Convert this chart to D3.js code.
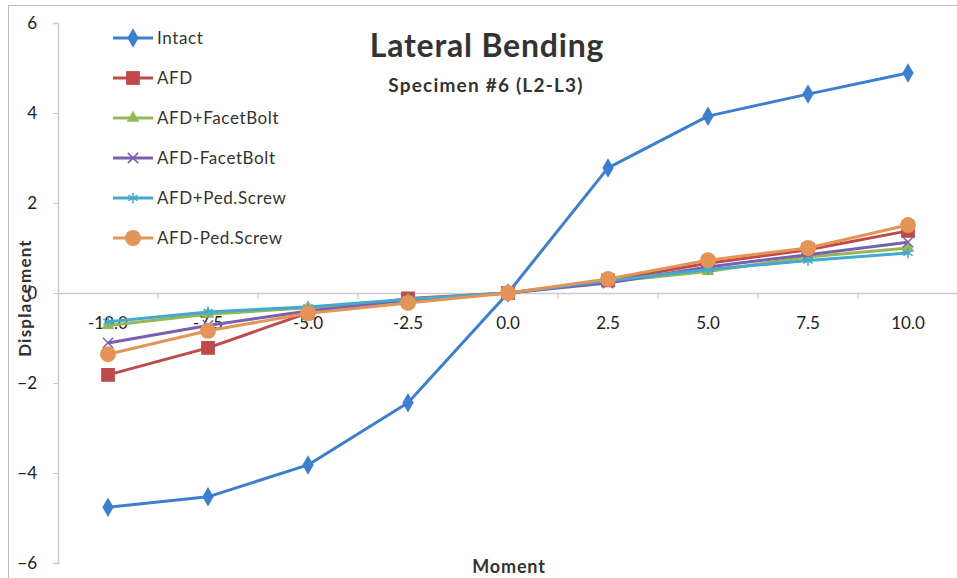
<!DOCTYPE html>
<html><head><meta charset="utf-8">
<script src="https://cdn.jsdelivr.net/npm/d3@7"></script>
<style>html,body{margin:0;padding:0;background:#fff;}svg{display:block;}</style>
</head><body>
<svg id="c" width="957" height="578"></svg>
<script>
const categories = ["-10.0","-7.5","-5.0","-2.5","0.0","2.5","5.0","7.5","10.0"];
const yTicks = [-6,-4,-2,0,2,4,6];
const intact        = [-4.76,-4.53,-3.82,-2.44,0,2.78,3.93,4.42,4.89];
const afd           = [-1.82,-1.22,-0.44,-0.12,0,0.28,0.66,0.96,1.38];
const afdPlusFacet  = [-0.72,-0.47,-0.33,-0.15,0,0.25,0.48,0.80,1.00];
const afdMinusFacet = [-1.11,-0.72,-0.40,-0.16,0,0.22,0.58,0.85,1.13];
const afdPlusPed    = [-0.64,-0.42,-0.31,-0.14,0,0.27,0.52,0.72,0.89];
const afdMinusPed   = [-1.36,-0.84,-0.45,-0.22,0,0.31,0.73,1.00,1.51];
const seriesNames = ["Intact","AFD","AFD+FacetBolt","AFD-FacetBolt","AFD+Ped.Screw","AFD-Ped.Screw"];

const series = [
  {name:seriesNames[0], values:intact, color:"#3d7fcf", marker:"diamond"},
  {name:seriesNames[1], values:afd, color:"#be4a4c", marker:"square"},
  {name:seriesNames[2], values:afdPlusFacet, color:"#93b957", marker:"triangle"},
  {name:seriesNames[3], values:afdMinusFacet, color:"#7a5fb0", marker:"x"},
  {name:seriesNames[4], values:afdPlusPed, color:"#45a8cc", marker:"star"},
  {name:seriesNames[5], values:afdMinusPed, color:"#e39457", marker:"circle"}
];

const svg = d3.select("#c");
const font = "Lato, 'Open Sans', sans-serif";
// outer border
svg.append("rect").attr("x",8.5).attr("y",5.5).attr("width",960).attr("height",580)
  .attr("fill","none").attr("stroke","#bbb").attr("stroke-width",1);

const plotL = 58, plotR = 958, plotT = 23, plotB = 563;
const x = d3.scaleBand().domain(categories).range([plotL, plotR]).paddingInner(0).paddingOuter(0);
const y = d3.scaleLinear().domain([-6,6]).range([plotB, plotT]);
const cx = c => x(c) + x.bandwidth()/2;

// y axis
const yAxis = svg.append("g").attr("transform",`translate(${plotL},0)`)
  .call(d3.axisLeft(y).tickValues(yTicks).tickFormat(d3.format("d")).tickSize(5).tickPadding(16));
yAxis.select(".domain").attr("stroke","#ccc").attr("stroke-width",1.5);
yAxis.selectAll(".tick line").attr("stroke","#ccc");
yAxis.selectAll("text").attr("font-family",font).attr("font-size",17).attr("fill","#222");

// x axis at y=0
const xAxis = svg.append("g").attr("transform",`translate(0,${y(0)})`)
  .call(d3.axisBottom(x).tickSize(0).tickPadding(24));
xAxis.select(".domain").attr("stroke","#ccc").attr("stroke-width",1.5);
xAxis.selectAll("text").attr("font-family",font).attr("font-size",17).attr("fill","#222");
// boundary ticks
const bounds = categories.slice(1).map(c => x(c));
svg.append("g").selectAll("line").data(bounds).join("line")
  .attr("x1",d=>d).attr("x2",d=>d).attr("y1",y(0)).attr("y2",y(0)+6)
  .attr("stroke","#ccc").attr("stroke-width",1.2);

function markerPath(type){
  switch(type){
    case "diamond": return d3.symbol(d3.symbolDiamond, 110)();
    case "square": return d3.symbol(d3.symbolSquare, 190)();
    case "triangle": return d3.symbol(d3.symbolTriangle, 70)();
    case "x": return d3.symbol(d3.symbolTimes, 70)();
    case "star": return d3.symbol(d3.symbolAsterisk, 80)();
    case "circle": return d3.symbol(d3.symbolCircle, 200)();
  }
}
const line = d3.line().x((d,i)=>cx(categories[i])).y(d=>y(d));

series.forEach(s => {
  const g = svg.append("g");
  g.append("path").datum(s.values).attr("d", line).attr("fill","none")
    .attr("stroke", s.color).attr("stroke-width", 3).attr("stroke-linejoin","round");
  const stroked = (s.marker==="x" || s.marker==="star");
  g.selectAll("path.m").data(s.values).join("path").attr("class","m")
    .attr("transform",(d,i)=>`translate(${cx(categories[i])},${y(d)})`)
    .attr("d", markerPath(s.marker))
    .attr("fill", stroked ? "none" : s.color)
    .attr("stroke", s.color).attr("stroke-width", stroked ? 1.5 : 0);
});

// legend
const leg = svg.append("g");
series.forEach((s,i) => {
  const yy = 38 + i*40;
  leg.append("line").attr("x1",113).attr("x2",153).attr("y1",yy).attr("y2",yy)
    .attr("stroke",s.color).attr("stroke-width",3);
  const stroked = (s.marker==="x" || s.marker==="star");
  leg.append("path").attr("transform",`translate(133,${yy})`).attr("d",markerPath(s.marker))
    .attr("fill", stroked ? "none" : s.color).attr("stroke",s.color).attr("stroke-width", stroked?1.5:0);
  leg.append("text").attr("x",157).attr("y",yy+6).text(s.name)
    .attr("font-family",font).attr("font-size",17).attr("letter-spacing",0.6).attr("fill","#333");
});

// titles
svg.append("text").attr("x",487).attr("y",57).attr("text-anchor","middle")
  .attr("font-family",font).attr("font-weight","bold").attr("font-size",32).attr("letter-spacing",0.8).attr("fill","#333")
  .text("Lateral Bending");
svg.append("text").attr("x",486).attr("y",92).attr("text-anchor","middle")
  .attr("font-family",font).attr("font-weight","bold").attr("font-size",19).attr("letter-spacing",1.2).attr("fill","#333")
  .text("Specimen #6 (L2-L3)");
svg.append("text").attr("x",509).attr("y",573).attr("text-anchor","middle")
  .attr("font-family",font).attr("font-weight","bold").attr("font-size",18).attr("letter-spacing",0.8).attr("fill","#333")
  .text("Moment");
svg.append("text").attr("transform","translate(31,298) rotate(-90)").attr("text-anchor","middle")
  .attr("font-family",font).attr("font-weight","bold").attr("font-size",17).attr("letter-spacing",1.2).attr("fill","#333")
  .text("Displacement");
</script>
</body></html>
